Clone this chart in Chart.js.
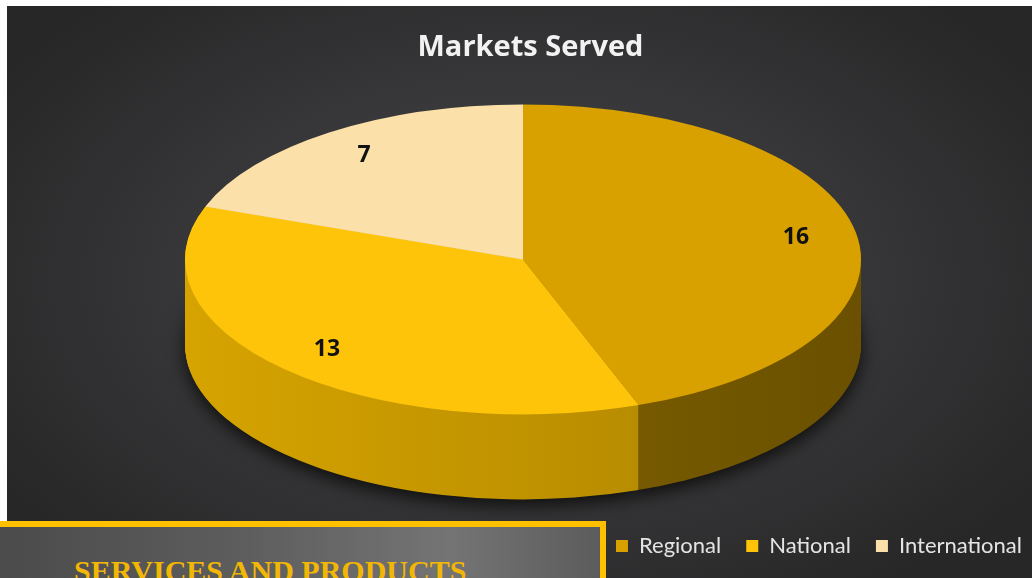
<!DOCTYPE html>
<html>
<head>
<meta charset="utf-8">
<script src="https://cdn.jsdelivr.net/npm/chart.js@4.4.1/dist/chart.umd.min.js"></script>
<style>
  html, body { margin: 0; padding: 0; background: #fff; }
  body { width: 1032px; height: 578px; position: relative; overflow: hidden; }
  .panel {
    position: absolute; left: 7px; top: 6px; right: 0; bottom: 0;
    background: radial-gradient(ellipse 60% 65% at 50% 48%, #444446 0%, #38383a 50%, #272728 100%);
  }
  #wrap { position: absolute; left: 0; top: 0; width: 1032px; height: 578px; }
  .promo {
    position: absolute; left: 0; top: 521px; width: 600px; height: 80px;
    border-top: 6px solid #ffc000; border-right: 6px solid #ffc000;
    background: linear-gradient(to right, #4b4b4c 0%, #5d5d5e 40%, #747475 75%, #5c5c5d 100%);
  }
  .promo span {
    position: absolute; left: 74px; top: 27px;
    font: bold 30px "Liberation Serif", "DejaVu Serif", serif;
    color: #f2b705; white-space: nowrap;
  }
</style>
</head>
<body>
<div class="panel"></div>
<div id="wrap"><canvas id="chart" width="1032" height="578"></canvas></div>
<div class="promo"><span>SERVICES AND PRODUCTS</span></div>
<script>
const categories = ['Regional', 'National', 'International'];
const markets = [16, 13, 7];
const topColors = ['#d9a100', '#fdc40a', '#fbe0aa'];
const sideColors = [['#8f6d00', '#6a5000'], ['#d6a400', '#a98100'], ['#e6c88c', '#c9a86a']];

// flattens the round pie into a tilted disc and draws its rim below
const pie3d = {
  id: 'pie3d',
  beforeDatasetsDraw(chart, args, opts) {
    const ctx = chart.ctx;
    const arcs = chart.getDatasetMeta(0).data;
    if (!arcs.length) return;
    const cx = arcs[0].x, cy = arcs[0].y, R = arcs[0].outerRadius;
    const sx = opts.rx / R, sy = opts.ry / R;
    const topY = cy - opts.depth / 2;

    // rim, stacked from the bottom up
    for (let d = opts.depth; d >= 1; d--) {
      ctx.save();
      ctx.translate(cx, topY + d);
      ctx.scale(sx, sy);
      ctx.translate(-cx, -cy);
      if (d === opts.depth) {
        ctx.shadowColor = 'rgba(0,0,0,0.75)';
        ctx.shadowBlur = 18;
        ctx.shadowOffsetY = 6;
      }
      arcs.forEach((a, i) => {
        const g = ctx.createLinearGradient(cx - R, 0, cx + R, 0);
        g.addColorStop(0, sideColors[i][0]);
        g.addColorStop(1, sideColors[i][1]);
        ctx.fillStyle = g;
        ctx.beginPath();
        ctx.moveTo(cx, cy);
        ctx.arc(cx, cy, R, a.startAngle, a.endAngle);
        ctx.closePath();
        ctx.fill();
      });
      ctx.restore();
    }

    // top face: let Chart.js draw it under this transform
    ctx.save();
    ctx.translate(cx, topY);
    ctx.scale(sx, sy);
    ctx.translate(-cx, -cy);
  },
  afterDatasetsDraw(chart, args, opts) {
    const ctx = chart.ctx;
    ctx.restore();
    const arcs = chart.getDatasetMeta(0).data;
    const ds = chart.data.datasets[0];
    const cx = arcs[0].x, cy = arcs[0].y, R = arcs[0].outerRadius;
    const sx = opts.rx / R, sy = opts.ry / R;
    const topY = cy - opts.depth / 2;
    ctx.save();
    ctx.font = 'bold 23px "Open Sans", sans-serif';
    ctx.fillStyle = '#111';
    ctx.textAlign = 'center';
    ctx.textBaseline = 'middle';
    arcs.forEach((a, i) => {
      const mid = (a.startAngle + a.endAngle) / 2;
      const r = R * opts.labelPos;
      ctx.fillText(String(ds.data[i]), cx + Math.cos(mid) * r * sx, topY + Math.sin(mid) * r * sy);
    });
    ctx.restore();
  }
};

new Chart(document.getElementById('chart'), {
  type: 'pie',
  data: {
    labels: categories,
    datasets: [{
      data: markets,
      backgroundColor: topColors,
      borderWidth: 0
    }]
  },
  options: {
    responsive: false,
    animation: false,
    layout: { padding: { left: 14, right: -15, top: 0, bottom: 11 } },
    plugins: {
      title: {
        display: true,
        text: 'Markets Served',
        color: '#f2f2f2',
        font: { family: '"Open Sans", sans-serif', size: 29, weight: 'bold' },
        padding: { top: 30, bottom: 29 }
      },
      legend: {
        position: 'bottom',
        align: 'end',
        labels: {
          color: '#e4e4e4',
          font: { family: 'Lato, sans-serif', size: 22 },
          boxWidth: 12,
          boxHeight: 12,
          padding: 25
        }
      },
      tooltip: { enabled: false },
      pie3d: { rx: 338, ry: 155, depth: 85, labelPos: 0.82 }
    }
  },
  plugins: [pie3d]
});
</script>
</body>
</html>
